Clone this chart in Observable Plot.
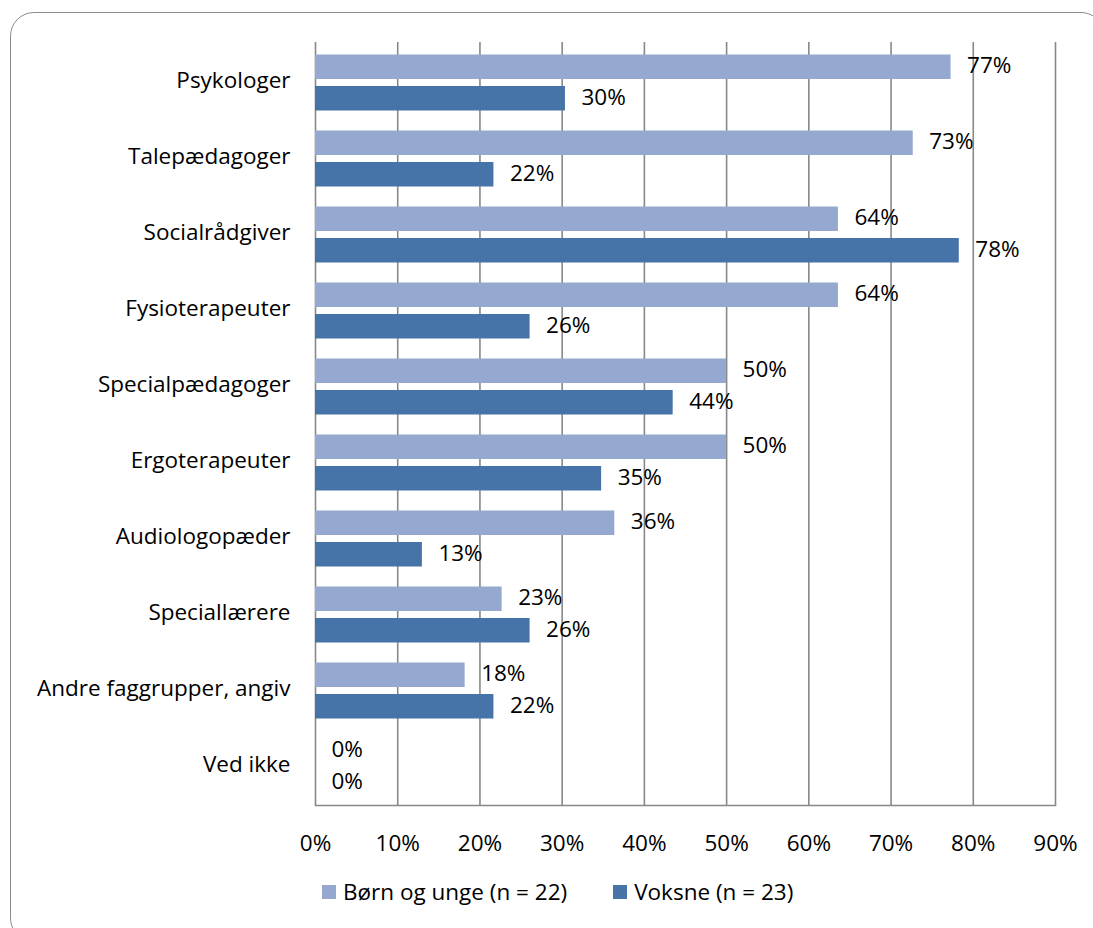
<!DOCTYPE html>
<html>
<head>
<meta charset="utf-8">
<script src="https://cdn.jsdelivr.net/npm/d3@7"></script>
<script src="https://cdn.jsdelivr.net/npm/@observablehq/plot@0.6"></script>
<style>
  html, body { margin: 0; padding: 0; background: #fff; overflow: hidden; width: 1093px; height: 928px; }
  #frame { position: absolute; left: 10px; top: 12px; width: 1095px; height: 930px; border: 1.5px solid #8c8c8c; border-radius: 24px; box-sizing: border-box; }
  #chart { position: absolute; left: 0; top: 0; }
  #legend { position: absolute; left: 322px; top: 876px; display: flex; align-items: center; font-family: "Open Sans", sans-serif; font-size: 22.5px; color: #000; }
  #legend .item { display: flex; align-items: center; margin-right: 46px; }
  #legend .sw { width: 14px; height: 14px; margin-right: 7px; display: inline-block; }
</style>
</head>
<body>
<div id="frame"></div>
<div id="chart"></div>
<div id="legend"></div>
<script>
const categories = ["Psykologer", "Talepædagoger", "Socialrådgiver", "Fysioterapeuter", "Specialpædagoger", "Ergoterapeuter", "Audiologopæder", "Speciallærere", "Andre faggrupper, angiv", "Ved ikke"];
const seriesNames = ["Børn og unge (n = 22)", "Voksne (n = 23)"];
const seriesColors = ["#95a9d0", "#4673a8"];
const born = [77.3, 72.7, 63.6, 63.6, 50.0, 50.0, 36.4, 22.7, 18.2, 0];
const voksne = [30.4, 21.7, 78.3, 26.1, 43.5, 34.8, 13.0, 26.1, 21.7, 0];
const xTicks = [0, 10, 20, 30, 40, 50, 60, 70, 80, 90];

const dataB = categories.map((c, i) => ({cat: c, v: born[i]}));
const dataV = categories.map((c, i) => ({cat: c, v: voksne[i]}));
const font = "'Open Sans', sans-serif";
const fmt = d => `${Math.round(d)}%`;

const plot = Plot.plot({
  width: 1093,
  height: 865,
  marginLeft: 315,
  marginRight: 38,
  marginTop: 42,
  marginBottom: 60,
  style: {fontFamily: font, fontSize: "22.5px", color: "#000", background: "transparent"},
  x: {domain: [0, 90], ticks: xTicks, tickFormat: d => `${d}%`},
  y: {domain: categories, padding: 0},
  marks: [
    Plot.ruleX(xTicks, {stroke: "#888", strokeWidth: 1.6}),
    Plot.barX(dataB, {x: "v", y: "cat", fill: seriesColors[0], insetTop: 10.5, insetBottom: 41}),
    Plot.barX(dataV, {x: "v", y: "cat", fill: seriesColors[1], insetTop: 42, insetBottom: 9.5}),
    Plot.text(dataB, {x: "v", y: "cat", text: d => fmt(d.v), dx: 16, dy: -16.5, textAnchor: "start", fill: "#000", fontSize: 22.5}),
    Plot.text(dataV, {x: "v", y: "cat", text: d => fmt(d.v), dx: 16, dy: 15, textAnchor: "start", fill: "#000", fontSize: 22.5}),
    Plot.axisX({ticks: xTicks, tickSize: 0, tickPadding: 30, tickFormat: d => `${d}%`, fontSize: 22.5, label: null}),
    Plot.axisY({tickSize: 0, tickPadding: 25, fontSize: 22.5, dy: -2, label: null}),
    Plot.frame({anchor: "bottom", stroke: "#888", strokeWidth: 1.6})
  ]
});
document.getElementById("chart").appendChild(plot);

const legend = document.getElementById("legend");
seriesNames.forEach((name, i) => {
  const item = document.createElement("span");
  item.className = "item";
  const sw = document.createElement("span");
  sw.className = "sw";
  sw.style.background = seriesColors[i];
  item.appendChild(sw);
  item.appendChild(document.createTextNode(name));
  legend.appendChild(item);
});
</script>
</body>
</html>
